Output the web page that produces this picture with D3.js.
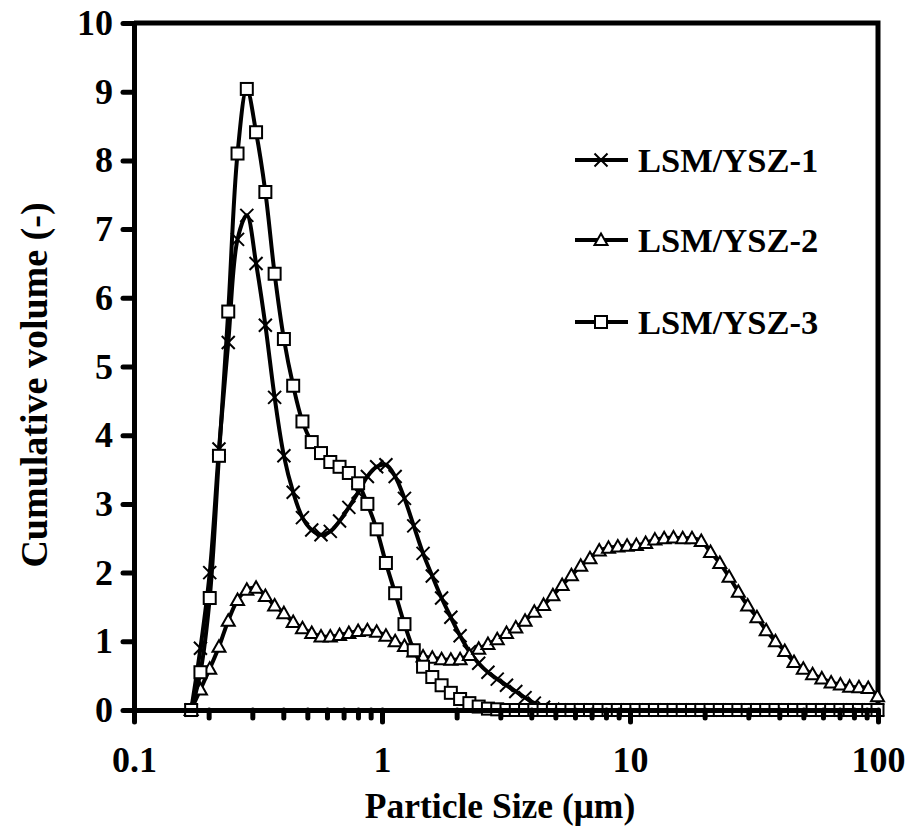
<!DOCTYPE html>
<html>
<head>
<meta charset="utf-8">
<script src="https://cdn.jsdelivr.net/npm/d3@7/dist/d3.min.js"></script>
<style>
  body { margin: 0; background: #fff; }
  svg { display: block; }
  text { font-family: "Liberation Serif", "Times New Roman", serif; font-weight: bold; fill: #000; }
</style>
</head>
<body>
<div class="content"></div>
<script>
// particle size classes (um)
const sizes = [
  0.170, 0.1853, 0.2020, 0.2201, 0.2399, 0.2615, 0.2850, 0.3106, 0.3386, 0.3690,
  0.4022, 0.4384, 0.4778, 0.5208, 0.5676, 0.6187, 0.6743, 0.7350, 0.8011, 0.8731,
  0.9516, 1.037, 1.130, 1.232, 1.343, 1.464, 1.595, 1.739, 1.895, 2.065,
  2.251, 2.454, 2.674, 2.915, 3.177, 3.463, 3.774, 4.113, 4.483, 4.887,
  5.326, 5.805, 6.327, 6.896, 7.516, 8.192, 8.929, 9.732, 10.61, 11.56,
  12.60, 13.73, 14.97, 16.31, 17.78, 19.38, 21.12, 23.02, 25.09, 27.35,
  29.81, 32.49, 35.41, 38.60, 42.07, 45.85, 49.98, 54.47, 59.37, 64.71,
  70.53, 76.87, 83.78, 91.32, 99.53
];

const lsm1 = [
  0, 0.9, 2.0, 3.8, 5.35, 6.85, 7.2, 6.5, 5.6, 4.55,
  3.7, 3.17, 2.8, 2.62, 2.55, 2.6, 2.75, 2.95, 3.17, 3.4,
  3.54, 3.57, 3.4, 3.08, 2.68, 2.28, 1.95, 1.63, 1.35, 1.08,
  0.85, 0.68, 0.55, 0.45, 0.36, 0.27, 0.18, 0.1, 0.04, 0.01,
  0, 0, 0, 0, 0, 0, 0, 0, 0, 0,
  0, 0, 0, 0, 0, 0, 0, 0, 0, 0,
  0, 0, 0, 0, 0, 0, 0, 0, 0, 0,
  0, 0, 0, 0, 0
];

const lsm2 = [
  0, 0.3, 0.6, 0.92, 1.3, 1.6, 1.75, 1.78, 1.66, 1.52,
  1.41, 1.28, 1.19, 1.12, 1.07, 1.07, 1.09, 1.12, 1.15, 1.16,
  1.14, 1.08, 1.0, 0.93, 0.85, 0.78, 0.76, 0.74, 0.73, 0.74,
  0.8, 0.89, 0.96, 1.03, 1.12, 1.2, 1.3, 1.43, 1.53, 1.67,
  1.82, 1.96, 2.1, 2.21, 2.32, 2.36, 2.38, 2.39, 2.4, 2.43,
  2.48, 2.5, 2.51, 2.5, 2.5, 2.46, 2.3, 2.14, 1.94, 1.72,
  1.52, 1.35, 1.16, 1.0, 0.86, 0.7, 0.6, 0.52, 0.46, 0.4,
  0.37, 0.34, 0.33, 0.32, 0.2
];

const lsm3 = [
  0, 0.55, 1.63, 3.7, 5.8, 8.1, 9.04, 8.41, 7.54, 6.35,
  5.4, 4.72, 4.2, 3.9, 3.74, 3.61, 3.54, 3.45, 3.3, 3.0,
  2.63, 2.14, 1.7, 1.25, 0.87, 0.63, 0.48, 0.36, 0.25, 0.16,
  0.1, 0.05, 0.02, 0.01, 0, 0, 0, 0, 0, 0,
  0, 0, 0, 0, 0, 0, 0, 0, 0, 0,
  0, 0, 0, 0, 0, 0, 0, 0, 0, 0,
  0, 0, 0, 0, 0, 0, 0, 0, 0, 0,
  0, 0, 0, 0, 0
];

const seriesNames = ['LSM/YSZ-1', 'LSM/YSZ-2', 'LSM/YSZ-3'];
const seriesMarkers = ['cross', 'triangle', 'square'];
const xTickLabels = [0.1, 1, 10, 100];
const yTickLabels = [0, 1, 2, 3, 4, 5, 6, 7, 8, 9, 10];

const width = 908, height = 834;

const svg = d3.select('div.content')
  .append('svg')
  .attr('width', width)
  .attr('height', height);

const x = d3.scaleLog().domain([0.1, 100]).range([134, 878]);
const y = d3.scaleLinear().domain([0, 10]).range([710, 23]);

// minor ticks on the log axis
const xMinor = [];
xTickLabels.slice(0, -1).forEach((d) => {
  for (let k = 1; k < 10; k++) xMinor.push(d * k);
});
xMinor.push(100);

const drawMarker = (sel, type) => {
  if (type === 'cross') {
    sel.append('path')
      .attr('d', 'M-6.5,-6.5L6.5,6.5M-6.5,6.5L6.5,-6.5')
      .attr('stroke', '#000').attr('stroke-width', 2).attr('fill', 'none');
  } else if (type === 'triangle') {
    sel.append('path')
      .attr('d', 'M0,-6.5L6.5,5L-6.5,5Z')
      .attr('stroke', '#000').attr('stroke-width', 2).attr('fill', '#fff');
  } else {
    sel.append('rect')
      .attr('x', -6).attr('y', -6).attr('width', 12).attr('height', 12)
      .attr('stroke', '#000').attr('stroke-width', 2).attr('fill', '#fff');
  }
};

// frame (top + right)
svg.append('path')
  .attr('d', `M${x(0.1)},${y(10)}H${x(100)}V${y(0)}`)
  .attr('fill', 'none').attr('stroke', '#000').attr('stroke-width', 5);

// series
const seriesData = [lsm1, lsm2, lsm3];
const line = d3.line()
  .x((d) => x(d[0]))
  .y((d) => y(d[1]))
  .curve(d3.curveCatmullRom.alpha(0.5));

seriesData.forEach((vals, s) => {
  const pts = sizes.map((sz, i) => [sz, vals[i]]);
  const g = svg.append('g');
  g.append('path')
    .attr('d', line(pts))
    .attr('fill', 'none')
    .attr('stroke', '#000')
    .attr('stroke-width', 4)
    .attr('stroke-linejoin', 'round');
  g.selectAll('g.m')
    .data(pts)
    .enter()
    .append('g')
    .attr('class', 'm')
    .attr('transform', (d) => `translate(${x(d[0])},${y(d[1])})`)
    .each(function () { drawMarker(d3.select(this), seriesMarkers[s]); });
});

// axes
const yAxis = d3.axisLeft(y)
  .tickValues(yTickLabels)
  .tickSize(11)
  .tickSizeOuter(0)
  .tickPadding(10)
  .tickFormat(d3.format('d'));

const gy = svg.append('g')
  .attr('transform', `translate(${x(0.1)},0)`)
  .call(yAxis);

const xAxis = d3.axisBottom(x)
  .tickValues(xMinor)
  .tickSize(10)
  .tickSizeOuter(0)
  .tickPadding(26)
  .tickFormat((d) => (xTickLabels.includes(d) ? String(d) : ''));

const gx = svg.append('g')
  .attr('transform', `translate(0,${y(0)})`)
  .call(xAxis);

[gx, gy].forEach((g) => {
  g.select('.domain').attr('stroke', '#000').attr('stroke-width', 5);
  g.selectAll('.tick line').attr('stroke', '#000').attr('stroke-width', 5).attr('stroke-linecap', 'round');
  g.selectAll('.tick text').style('font-size', '36px');
  g.attr('font-family', null).attr('font-size', null);
});
gx.selectAll('.tick line').attr('y2', (d) => (xTickLabels.includes(d) ? 12 : 8));

// axis titles
svg.append('text')
  .attr('x', 500)
  .attr('y', 818)
  .attr('text-anchor', 'middle')
  .style('font-size', '35.5px')
  .text('Particle Size (\u03bcm)');

svg.append('text')
  .attr('transform', 'translate(47,385) rotate(-90)')
  .attr('text-anchor', 'middle')
  .style('font-size', '38px')
  .text('Cumulative volume (-)');

// legend
const legendY = [160, 240, 322];
seriesNames.forEach((name, s) => {
  const g = svg.append('g').attr('transform', `translate(0,${legendY[s]})`);
  g.append('line')
    .attr('x1', 575).attr('x2', 628)
    .attr('stroke', '#000').attr('stroke-width', 4);
  const m = g.append('g').attr('transform', 'translate(601,0)');
  drawMarker(m, seriesMarkers[s]);
  g.append('text')
    .attr('x', 638)
    .attr('y', 12)
    .style('font-size', '34.5px')
    .text(name);
});
</script>
</body>
</html>
